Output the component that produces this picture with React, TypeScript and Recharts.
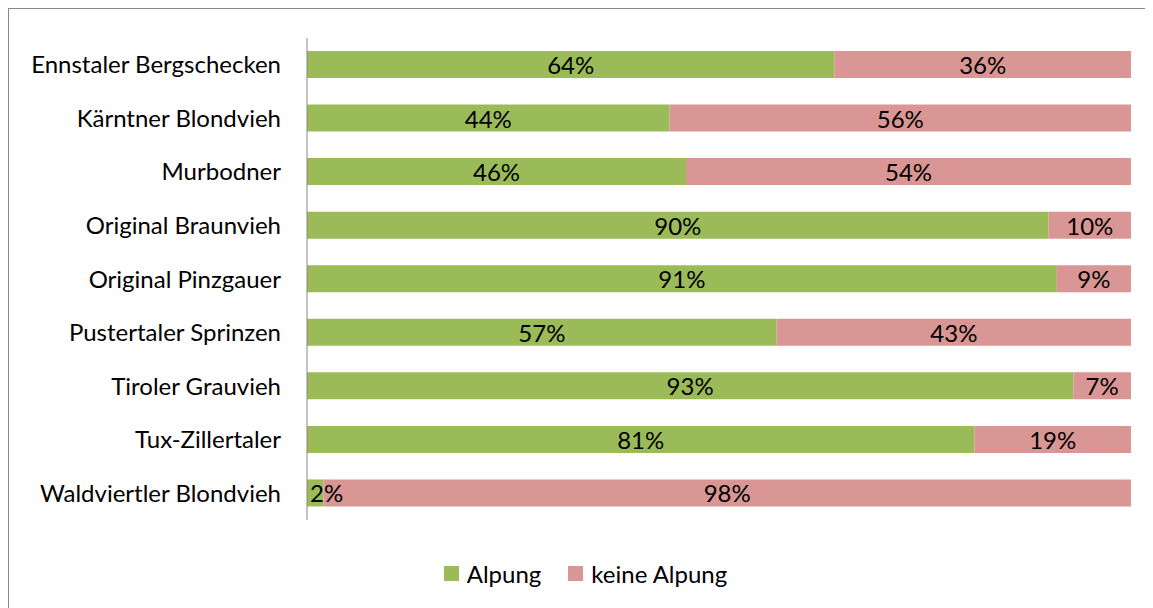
import React from "react";
import { BarChart, Bar, XAxis, YAxis, LabelList } from "recharts";

const breeds = [
  "Ennstaler Bergschecken",
  "Kärntner Blondvieh",
  "Murbodner",
  "Original Braunvieh",
  "Original Pinzgauer",
  "Pustertaler Sprinzen",
  "Tiroler Grauvieh",
  "Tux-Zillertaler",
  "Waldviertler Blondvieh",
];
const alpung = [64, 44, 46, 90, 91, 57, 93, 81, 2];
const keineAlpung = [36, 56, 54, 10, 9, 43, 7, 19, 98];

const data = breeds.map((name, i) => ({
  name,
  alpung: alpung[i],
  keine: keineAlpung[i],
}));

const FONT = "Lato, 'Open Sans', sans-serif";
const FS = 24;
const GREEN = "#9BBB59";
const RED = "#D99694";

const legendItems = [
  { label: "Alpung", color: GREEN },
  { label: "keine Alpung", color: RED },
];

// centered percent label; a segment too narrow for its text gets the text
// started just inside its left edge (like the 2% one)
function PctLabel(props: any) {
  const { x, y, width, height, value } = props;
  const narrow = width < 40;
  return (
    <text
      x={narrow ? x + 3 : x + width / 2}
      y={y + height / 2}
      textAnchor={narrow ? "start" : "middle"}
      dominantBaseline="central"
      fill="#000"
      fontSize={FS}
      fontFamily={FONT}
    >
      {value}%
    </text>
  );
}

function ChartLegend() {
  return (
    <div
      style={{
        position: "absolute",
        left: 4,
        width: 1145,
        top: 550,
        display: "flex",
        justifyContent: "center",
        alignItems: "center",
        fontFamily: FONT,
        fontSize: FS,
        color: "#000",
      }}
    >
      {legendItems.map((it, i) => (
        <div key={it.label} style={{ display: "flex", alignItems: "center", marginLeft: i ? 27 : 0 }}>
          <span style={{ display: "inline-block", width: 15, height: 15, background: it.color, marginRight: 8 }} />
          <span>{it.label}</span>
        </div>
      ))}
    </div>
  );
}

export default function App() {
  return (
    <div style={{ position: "relative", width: 1200, height: 650, border: "1px solid #888", boxSizing: "border-box" }}>
      <BarChart
        width={1145}
        height={600}
        data={data}
        layout="vertical"
        margin={{ top: 29, right: 23, bottom: 89, left: 0 }}
        barSize={27}
      >
        <XAxis type="number" domain={[0, 100]} hide />
        <YAxis
          type="category"
          dataKey="name"
          width={298}
          axisLine={{ stroke: "#888" }}
          tickLine={false}
          tickSize={0}
          tickMargin={26}
          tick={{ fill: "#000", fontSize: FS, fontFamily: FONT }}
        />
        <Bar dataKey="alpung" stackId="a" fill={GREEN} isAnimationActive={false}>
          <LabelList dataKey="alpung" content={PctLabel} />
        </Bar>
        <Bar dataKey="keine" stackId="a" fill={RED} isAnimationActive={false}>
          <LabelList dataKey="keine" content={PctLabel} />
        </Bar>
      </BarChart>
      <ChartLegend />
    </div>
  );
}
